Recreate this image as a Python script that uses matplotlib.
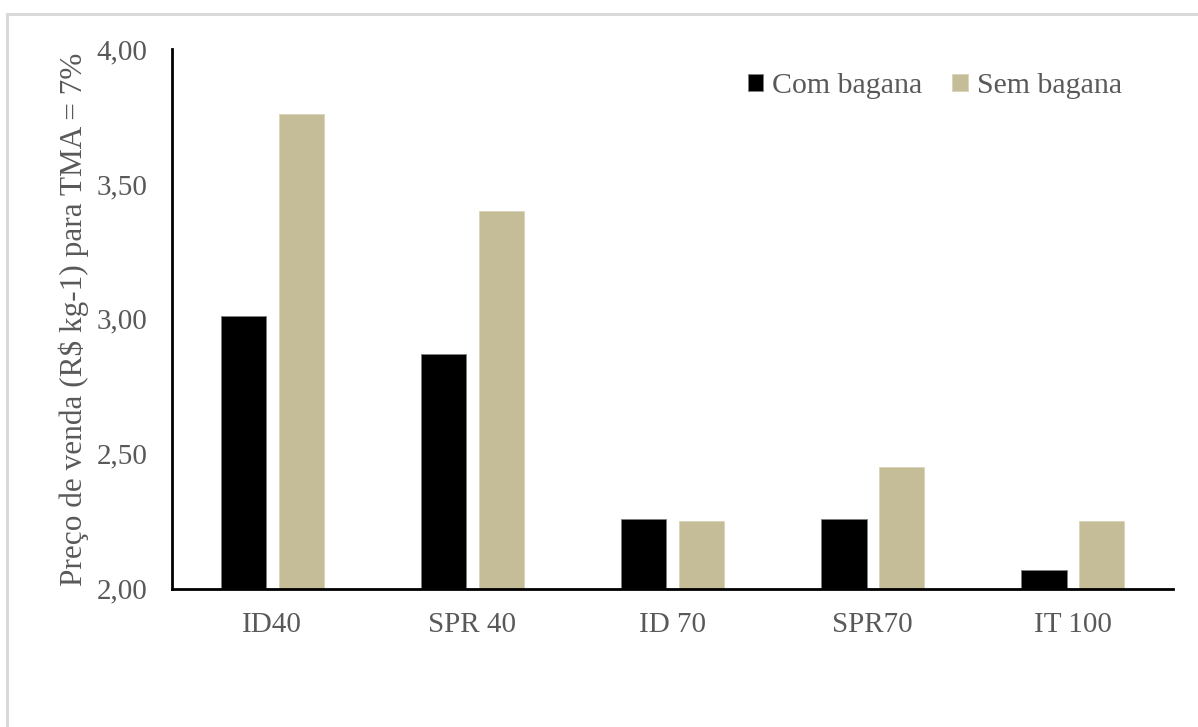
import matplotlib.pyplot as plt
import numpy as np
from matplotlib.patches import Rectangle
from matplotlib.ticker import FuncFormatter

# Preço de venda por sistema, com e sem bagana
sistemas = ["ID40", "SPR 40", "ID 70", "SPR70", "IT 100"]
com_bagana = [3.01, 2.87, 2.26, 2.26, 2.07]
sem_bagana = [3.76, 3.40, 2.25, 2.45, 2.25]

TEXT = "#595959"
TAN = "#C4BD97"

plt.rcParams["font.family"] = ["Liberation Serif", "DejaVu Serif"]

fig = plt.figure(figsize=(11.98, 7.27), dpi=100)
ax = fig.add_axes([0.1438, 0.1902, 0.8353, 0.7424])

# moldura cinza clara em volta do gráfico
fig.patches.append(Rectangle((7 / 1198, -0.1), 1.2, 1.1 - 14 / 727,
                             transform=fig.transFigure, fill=False,
                             edgecolor="#d9d9d9", linewidth=2.2))

x = np.arange(len(sistemas))
w = 0.226
off = 0.144
ax.bar(x - off, [v - 2 for v in com_bagana], w, bottom=2, color="black",
       edgecolor="#7f7f7f", linewidth=0.6, label="Com bagana")
ax.bar(x + off, [v - 2 for v in sem_bagana], w, bottom=2, color=TAN,
       edgecolor="#d8d3b8", linewidth=0.6, label="Sem bagana")

ax.set_xlim(-0.5, len(sistemas) - 0.5)
ax.set_ylim(2.0, 4.0)
ax.set_yticks(np.arange(2.0, 4.01, 0.5))
ax.yaxis.set_major_formatter(FuncFormatter(lambda v, p: f"{v:.2f}".replace(".", ",")))
ax.set_xticks(x)
ax.set_xticklabels(sistemas)

ax.tick_params(axis="both", length=0, labelsize=21, labelcolor=TEXT)
ax.tick_params(axis="y", pad=18)
ax.tick_params(axis="x", pad=17)

for side in ("top", "right"):
    ax.spines[side].set_visible(False)
for side in ("left", "bottom"):
    ax.spines[side].set_linewidth(2)
    ax.spines[side].set_color("black")

ax.set_ylabel("Preço de venda (R$ kg-1) para TMA = 7%", fontsize=22.5, color=TEXT)
ax.yaxis.set_label_coords(-0.083, 0.5)

leg = ax.legend(loc="center right", bbox_to_anchor=(0.976, 0.931), ncol=2,
                frameon=False, fontsize=21.5, handlelength=0.52, handleheight=0.52,
                handletextpad=0.3, columnspacing=1.0)
for t in leg.get_texts():
    t.set_color(TEXT)

fig.savefig("out.png", dpi=100)
